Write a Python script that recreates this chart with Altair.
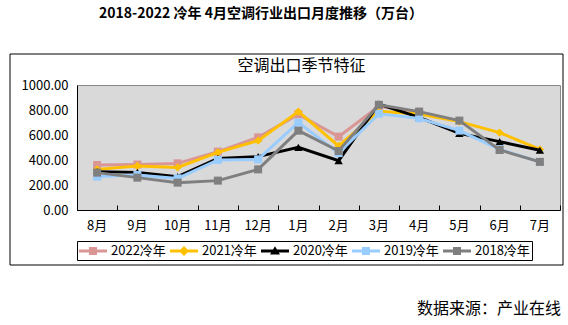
import altair as alt
import pandas as pd

months = ["8月", "9月", "10月", "11月", "12月", "1月", "2月", "3月", "4月", "5月", "6月", "7月"]
series_names = ["2022冷年", "2021冷年", "2020冷年", "2019冷年", "2018冷年"]
y2022 = [360, 364, 373, 467, 581, 765, 587, 830, 785]
y2021 = [325, 352, 341, 461, 555, 787, 512, 790, 768, 707, 619, 485]
y2020 = [307, 301, 267, 413, 427, 501, 395, 848, 741, 613, 547, 478]
y2019 = [267, 280, 253, 400, 405, 700, 455, 770, 733, 635, 485, 385]
y2018 = [299, 259, 219, 235, 325, 635, 472, 842, 787, 715, 480, 385]
y_ticks = [0, 200, 400, 600, 800, 1000]

colors = ["#D99694", "#FFC000", "#000000", "#99CCFF", "#7F7F7F"]
markers = ["square", "diamond", "triangle-up", "square", "square"]
marker_sizes = [64, 70, 70, 64, 64]

title_text = ["2018-2022 冷年 4月空调行业出口月度推移（万台）"]
subtitle_text = ["空调出口季节特征"]
source_text = ["数据来源：产业在线"]

FONT = "Noto Sans CJK SC"

all_values = [y2022, y2021, y2020, y2019, y2018]
rows = []
for name, vals in zip(series_names, all_values):
    for m, v in zip(months, vals):
        rows.append({"month": m, "value": v, "series": name})
df = pd.DataFrame(rows)

PLOT_H = 125

xscale = alt.Scale(type="band", domain=months, paddingInner=0, paddingOuter=0)
main_axis = alt.Axis(title=None, domain=True, domainColor="black", domainWidth=1,
                     ticks=False, labelPadding=9, labelFontSize=13, labelFont=FONT,
                     labelColor="black", labelAngle=0, grid=False, orient="bottom")
# inward tick marks at the category boundaries, drawn by a top axis moved down
tick_axis = alt.Axis(title=None, domain=False, labels=False, ticks=True, tickSize=5,
                     tickColor="black", tickWidth=1, tickBand="extent",
                     offset=-PLOT_H, grid=False, orient="top")

yenc = alt.Y("value:Q", scale=alt.Scale(domain=[0, 1000], nice=False),
             axis=alt.Axis(title=None, values=y_ticks, format=".2f", ticks=False,
                           domain=True, domainColor="black", grid=False,
                           labelPadding=9, labelFontSize=13, labelFont=FONT,
                           labelColor="black"))

path_line = "M-1,-0.19 L2.5,-0.19 L2.5,0.19 L-1,0.19 Z "
paths = [
    path_line + "M0.25,-0.5 L1.25,-0.5 L1.25,0.5 L0.25,0.5 Z",
    path_line + "M0.75,-0.62 L1.37,0 L0.75,0.62 L0.13,0 Z",
    path_line + "M0.75,-0.58 L1.37,0.45 L0.13,0.45 Z",
    path_line + "M0.25,-0.5 L1.25,-0.5 L1.25,0.5 L0.25,0.5 Z",
    path_line + "M0.25,-0.5 L1.25,-0.5 L1.25,0.5 L0.25,0.5 Z",
]

# legend-only layer: no rows drawn, legend built from the explicit scale domain
legend_layer = alt.Chart(df).transform_filter("datum.value < 0").mark_point(
    filled=True, opacity=1).encode(
    x=alt.X("month:N", scale=xscale, sort=months, axis=main_axis),
    y=yenc,
    color=alt.Color("series:N", scale=alt.Scale(domain=series_names, range=colors),
                    sort=series_names,
                    legend=alt.Legend(orient="none", legendX=0, legendY=156,
                                      direction="horizontal", columns=5, title=None,
                                      strokeColor="black", padding=2,
                                      labelFontSize=13, labelFont=FONT,
                                      labelColor="black", symbolSize=256,
                                      symbolStrokeWidth=0, symbolOpacity=1,
                                      labelOffset=16, columnPadding=4)),
    shape=alt.Shape("series:N", scale=alt.Scale(domain=series_names, range=paths),
                    sort=series_names),
)

layers = [legend_layer]
for i, name in enumerate(series_names):
    sub = alt.Chart(df).transform_filter(alt.datum.series == name)
    xa = tick_axis if i == 0 else None
    line = sub.mark_line(color=colors[i], strokeWidth=3).encode(
        x=alt.X("month:N", scale=xscale, sort=months, axis=xa),
        y=yenc,
    )
    pts = sub.mark_point(filled=True, opacity=1, color=colors[i],
                         shape=markers[i], size=marker_sizes[i]).encode(
        x=alt.X("month:N", scale=xscale, sort=months, axis=None),
        y=yenc,
    )
    layers += [line, pts]

frame = alt.Chart(pd.DataFrame({"a": [0]})).mark_rect(
    fill="transparent", stroke="black", strokeWidth=1).encode(
    x=alt.value(-67), x2=alt.value(486), y=alt.value(-31), y2=alt.value(180))

title = alt.Chart(pd.DataFrame({"t": title_text})).mark_text(
    font=FONT, fontSize=14, fontWeight="bold", color="black",
    align="center", baseline="middle").encode(
    text="t:N", x=alt.value(184), y=alt.value(-71))

subtitle = alt.Chart(pd.DataFrame({"t": subtitle_text})).mark_text(
    font=FONT, fontSize=16, color="black", align="center", baseline="middle").encode(
    text="t:N", x=alt.value(224.5), y=alt.value(-19))

source = alt.Chart(pd.DataFrame({"t": source_text})).mark_text(
    font=FONT, fontSize=16, color="black", align="right", baseline="middle").encode(
    text="t:N", x=alt.value(484), y=alt.value(224))

chart = alt.layer(*layers, frame, title, subtitle, source).resolve_axis(
    x="independent"
).properties(
    width=483, height=PLOT_H,
    autosize=alt.AutoSizeParams(type="none"),
    padding={"left": 77, "top": 85, "right": 8, "bottom": 115},
    background="white",
).configure_view(
    fill="#D9D9D9", stroke="#898989", strokeWidth=1
)

chart.save("out.html", embed_options={"renderer": "svg", "actions": False})
